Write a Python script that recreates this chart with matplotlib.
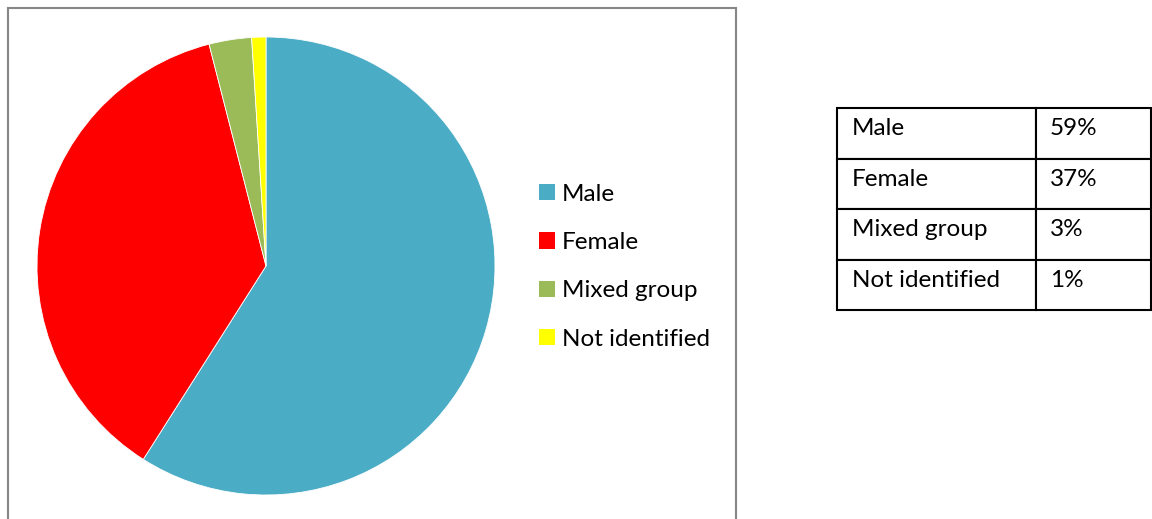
import matplotlib.pyplot as plt
from matplotlib.lines import Line2D
from matplotlib.patches import Patch
from matplotlib.transforms import Affine2D

# Datos
categorias = ['Male', 'Female', 'Mixed group', 'Not identified']
porcentajes = [59, 37, 3, 1]
colores = ['#4BACC6', '#FF0000', '#9BBB59', '#FFFF00']
etiquetas_tabla = ['59%', '37%', '3%', '1%']

plt.rcParams['font.family'] = ['Lato', 'DejaVu Sans']

W, H = 1152, 519
fig = plt.figure(figsize=(W / 100, H / 100), dpi=100)

# Marco del gráfico (sin borde inferior)
def fx(px):
    return px / W

def fy(py):
    return 1 - py / H

for xs, ys in [((8, 8), (8, 530)), ((8, 736), (8, 8)), ((736, 736), (8, 530))]:
    fig.add_artist(Line2D([fx(xs[0]), fx(xs[1])], [fy(ys[0]), fy(ys[1])],
                          color='#868686', lw=1.5))

# Pastel
cx, cy, r = 266, 266, 229
ax = fig.add_axes([fx(cx - r), fy(cy + r), 2 * r / W, 2 * r / H])
ax.pie(porcentajes, colors=colores, startangle=90, counterclock=False,
       radius=1, wedgeprops={'linewidth': 0.6, 'edgecolor': 'white'})
ax.set_xlim(-1, 1)
ax.set_ylim(-1, 1)
ax.set_aspect('auto')
ax.axis('off')

# Leyenda
handles = [Patch(facecolor=c, edgecolor='none') for c in colores]
fig.legend(handles, categorias, loc='upper left',
           bbox_to_anchor=(fx(517), fy(162)), frameon=False,
           fontsize=17.5, handlelength=0.65, handleheight=0.65,
           handletextpad=0.3, labelspacing=1.12)

# Tabla
ax_t = fig.add_axes([fx(837), fy(310), (1151 - 837) / W, (310 - 108) / H])
ax_t.axis('off')
filas = [[c, p] for c, p in zip(categorias, etiquetas_tabla)]
tabla = ax_t.table(cellText=filas, colWidths=[199, 115], cellLoc='left',
                   bbox=[0, 0, 1, 1])
tabla.auto_set_font_size(False)
for (i, j), celda in tabla.get_celld().items():
    celda.set_linewidth(1.5)
    celda.set_edgecolor('black')
    celda.PAD = 0.075 if j == 0 else 0.12
    texto = celda.get_text()
    texto.set_fontsize(17.5)
    texto.set_va('baseline')
    texto.set_transform(Affine2D().translate(0, -2))

fig.savefig('out.png', dpi=100)
plt.close(fig)
